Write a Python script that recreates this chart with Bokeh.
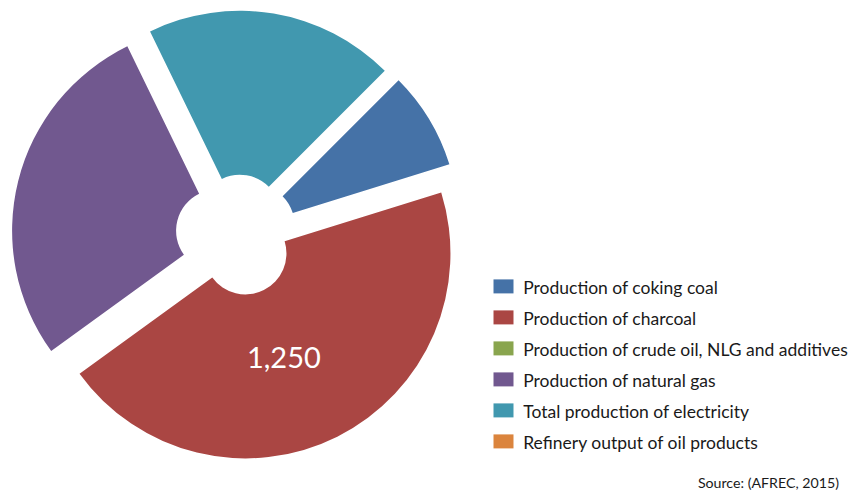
import math
from bokeh.plotting import figure
from bokeh.models import Range1d, ColumnDataSource
from bokeh.core.properties import value
from bokeh.embed import file_html
from bokeh.resources import INLINE

# ---- data ----
categories = [
    "Production of coking coal",
    "Production of charcoal",
    "Production of crude oil, NLG and additives",
    "Production of natural gas",
    "Total production of electricity",
    "Refinery output of oil products",
]
values = [215, 1250, 0, 775, 550, 0]
colors = ["#4572A7", "#AA4643", "#89A54E", "#71588F", "#4198AF", "#DB843D"]
shown_labels = ["", "1,250", "", "", "", ""]
source_note = "Source: (AFREC, 2015)"

# ---- layout ----
W, H = 852, 491
cx, cy = 236, 256          # pie centre (px, y up)
R_out, R_in = 205, 41      # ring radii
explode = 20               # offset of each slice along its bisector
start_deg = 45             # first slice starts here, clockwise
FONT = "Lato"

total = float(sum(values))
wx, wy, ws, we, wc = [], [], [], [], []
xs, ys, mids = [], [], []
cum = 0.0
for v, col in zip(values, colors):
    a_hi = math.radians(start_deg - cum / total * 360.0)
    cum += v
    a_lo = math.radians(start_deg - cum / total * 360.0)
    mid = (a_hi + a_lo) / 2.0
    x0 = cx + explode * math.cos(mid)
    y0 = cy + explode * math.sin(mid)
    xs.append(x0); ys.append(y0); mids.append(mid)
    if v > 0:
        wx.append(x0); wy.append(y0); ws.append(a_lo); we.append(a_hi); wc.append(col)

src = ColumnDataSource(dict(x=wx, y=wy, s=ws, e=we, c=wc))

p = figure(width=W, height=H, output_backend="svg", toolbar_location=None,
           x_range=Range1d(0, W), y_range=Range1d(0, H), min_border=0,
           x_axis_type=None, y_axis_type=None)
p.grid.visible = False
p.outline_line_color = None
p.background_fill_color = "white"
p.border_fill_color = "white"

p.annular_wedge(x="x", y="y", inner_radius=R_in, outer_radius=R_out,
                start_angle="s", end_angle="e", fill_color="c",
                line_color=None, source=src)

# data label(s)
lab_r, lab_dx = 117, -14
lx, ly, lt = [], [], []
for i, t in enumerate(shown_labels):
    if t:
        lx.append(xs[i] + lab_r * math.cos(mids[i]) + lab_dx)
        ly.append(ys[i] + lab_r * math.sin(mids[i]))
        lt.append(t)
p.text(x=lx, y=ly, text=lt, text_color="white", text_font=value(FONT),
       text_font_size="29px", text_align="center", text_baseline="middle")

# legend (drawn as glyphs)
leg_x, leg_y0, leg_pitch = 503, 205.1, 31
n = len(categories)
leg_ys = [leg_y0 - i * leg_pitch for i in range(n)]
p.rect(x=[leg_x] * n, y=leg_ys, width=20, height=14,
       fill_color=colors, line_color=None)
p.text(x=[leg_x + 19.7] * n, y=[v - 0.6 for v in leg_ys], text=categories,
       text_color="#1a1a1a", text_font=value(FONT), text_font_size="17.5px",
       text_align="left", text_baseline="middle")

p.text(x=[838.5], y=[8.7], text=[source_note], text_color="#1a1a1a",
       text_font=value(FONT), text_font_size="14.2px",
       text_align="right", text_baseline="middle")

open("out.html", "w").write(file_html(p, INLINE))
